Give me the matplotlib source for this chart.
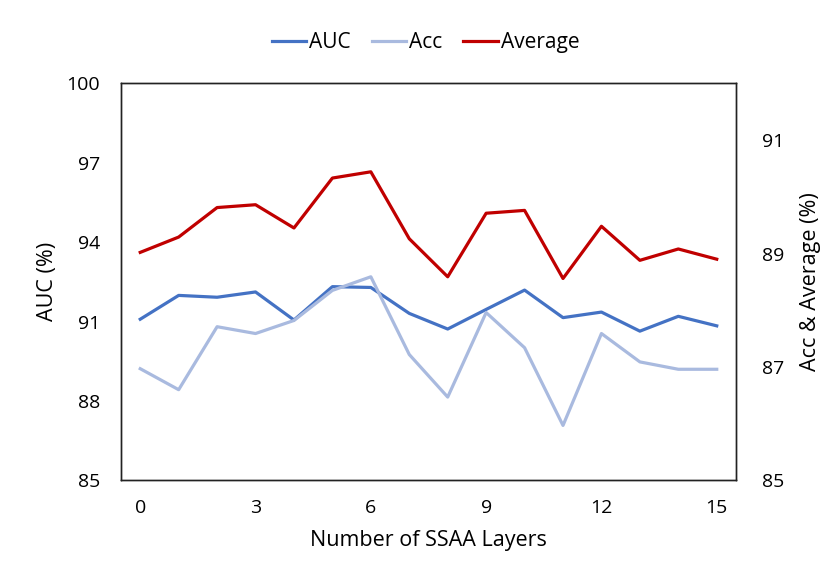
import matplotlib.pyplot as plt

plt.rcParams['font.family'] = ['Open Sans', 'DejaVu Sans']

layers = list(range(16))
auc = [91.09, 91.99, 91.92, 92.12, 91.06, 92.32, 92.29, 91.31,
       90.72, 91.46, 92.19, 91.15, 91.36, 90.64, 91.20, 90.84]
acc = [86.97, 86.60, 87.71, 87.59, 87.82, 88.35, 88.59, 87.22,
       86.47, 87.96, 87.34, 85.97, 87.59, 87.09, 86.96, 86.96]
average = [89.02, 89.29, 89.81, 89.86, 89.45, 90.33, 90.44, 89.26,
           88.59, 89.71, 89.76, 88.56, 89.48, 88.88, 89.08, 88.90]

left_ticks = [85, 88, 91, 94, 97, 100]
right_ticks = [85, 87, 89, 91]
x_ticks = [0, 3, 6, 9, 12, 15]

fig = plt.figure(figsize=(8.3, 5.78), dpi=100)
ax1 = fig.add_axes([0.1458, 0.1687, 0.7409, 0.6872])
ax2 = ax1.twinx()

l1, = ax1.plot(layers, auc, color='#4472C4', linewidth=2.3, label='AUC')
l2, = ax2.plot(layers, acc, color='#A9BADF', linewidth=2.3, label='Acc')
l3, = ax2.plot(layers, average, color='#C00000', linewidth=2.3, label='Average')

ax1.set_xlim(-0.5, 15.5)
ax1.set_ylim(85, 100)
ax2.set_ylim(85, 92)
ax1.set_xticks(x_ticks)
ax1.set_yticks(left_ticks)
ax2.set_yticks(right_ticks)

for ax in (ax1, ax2):
    ax.tick_params(axis='both', length=0, labelsize=14, pad=12)
    for s in ax.spines.values():
        s.set_color('#222222')
        s.set_linewidth(1.0)
ax1.tick_params(axis='y', pad=15)
ax1.tick_params(axis='x', pad=13)
ax2.tick_params(axis='y', pad=19)

ax1.set_ylabel('AUC (%)', fontsize=15.5, labelpad=6)
ax2.set_ylabel('Acc & Average (%)', fontsize=15.5, labelpad=11)
ax1.set_xlabel('Number of SSAA Layers', fontsize=15.5, labelpad=10)

fig.legend(handles=[l1, l2, l3], loc='center', bbox_to_anchor=(0.513, 0.926),
           ncol=3, frameon=False, fontsize=15, handlelength=1.65,
           handletextpad=0.15, columnspacing=1.0)

fig.savefig('out.png', dpi=100)
